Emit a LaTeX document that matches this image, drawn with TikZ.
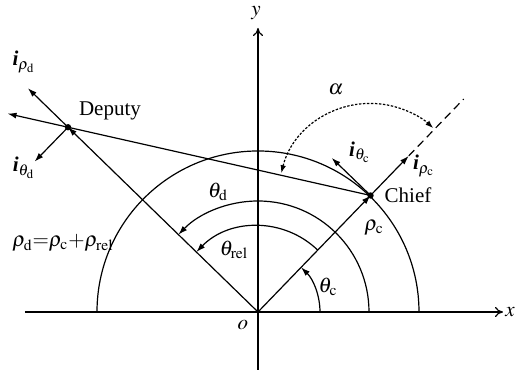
\documentclass[tikz,border=0pt]{standalone}
\usepackage{mathptmx}
\usepackage[no-math]{fontspec}
\setmainfont{Liberation Serif}
\usetikzlibrary{arrows.meta,calc}
\begin{document}
\begin{tikzpicture}[x=0.5pt,y=0.5pt,line width=0.6pt,
  arr/.style={-{Latex[length=4.5pt,width=3pt]}},
  axisarr/.style={-{To[length=4pt,width=5pt]}},
  lbl/.style={font=\fontsize{10.5}{12}\selectfont,inner sep=0pt},
  dotpt/.style={circle,fill,inner sep=0pt,minimum size=3.2pt}]
\useasboundingbox (-258,-71) rectangle (258,312);
\newcommand{\bi}{\textbf{\textit{i}}}
% points
\coordinate (O) at (0,0);
\coordinate (C) at (46:162);
\coordinate (D) at (135.8:265);
\coordinate (Xl) at (-233,0);
\coordinate (Xr) at (245,0);
\coordinate (Yb) at (0,-58);
\coordinate (Yt) at (0,284);
% axes
\draw[axisarr] (Xl) -- (Xr);
\draw[axisarr] (Yb) -- (Yt);
\node[lbl] (xl) at (252,0) {$x$};
\node[lbl] (yl) at (-2,299) {$y$};
\node[lbl] (ol) at (-15,-13) {$o$};
% big arc
\draw (161,0) arc[start angle=0,end angle=180,radius=161];
% angle arcs
\draw[arr] (111,0) arc[start angle=0,end angle=135.8,radius=111];
\draw[arr] (46:86) arc[start angle=46,end angle=135.8,radius=86];
\draw[arr] (62,0) arc[start angle=0,end angle=46,radius=62];
% radius vectors
\draw[arr] (O) -- (C);
\draw[arr] (O) -- (D);
% chief-deputy line
\coordinate (E) at ($(C)!1.2!(D)$);
\draw[arr] (C) -- (E);
% chief frame
\coordinate (Crho) at ($(C)+(46:55)$);
\coordinate (Cdash) at ($(C)+(46:134)$);
\coordinate (Cth) at ($(C)+(136:54)$);
\draw[arr] (C) -- (Crho);
\draw[dashed,dash pattern=on 4pt off 2.5pt] (Crho) -- (Cdash);
\draw[arr] (C) -- (Cth);
% deputy frame
\coordinate (Drho) at ($(D)+(135.8:56)$);
\coordinate (Dth) at ($(D)+(225.8:48)$);
\draw[arr] (D) -- (Drho);
\draw[arr] (D) -- (Dth);
% alpha arc
\draw[{Latex[length=4pt,width=2.8pt]}-{Latex[length=4pt,width=2.8pt]},dash pattern=on 1.2pt off 0.8pt]
  ($(C)+(166:92)$) arc[start angle=166,end angle=47,radius=92];
% dots
\node[dotpt] (Cd) at (C) {};
\node[dotpt] (Dd) at (D) {};
% labels
\node[lbl] (al) at (78,222) {$\alpha$};
\node[lbl] (ithc) at (102,160) {\bi$_{\theta_{\rm c}}$};
\node[lbl] (irhoc) at (166,146) {\bi$_{\rho_{\rm c}}$};
\node[lbl] (chief) at (150,117) {Chief};
\node[lbl] (rhoc) at (116,84) {$\rho_{\rm c}$};
\node[lbl] (thd) at (-40,120) {$\theta_{\rm d}$};
\node[lbl] (threl) at (-24,62) {$\theta_{\rm rel}$};
\node[lbl] (thc) at (70,25) {$\theta_{\rm c}$};
\node[lbl] (rhod) at (-195,69) {$\rho_{\rm d}{=}\rho_{\rm c}{+}\rho_{\rm rel}$};
\node[lbl] (dep) at (-148,201) {Deputy};
\node[lbl] (irhod) at (-234,250) {\bi$_{\rho_{\rm d}}$};
\node[lbl] (ithd) at (-234,144) {\bi$_{\theta_{\rm d}}$};
\end{tikzpicture}
\end{document}
